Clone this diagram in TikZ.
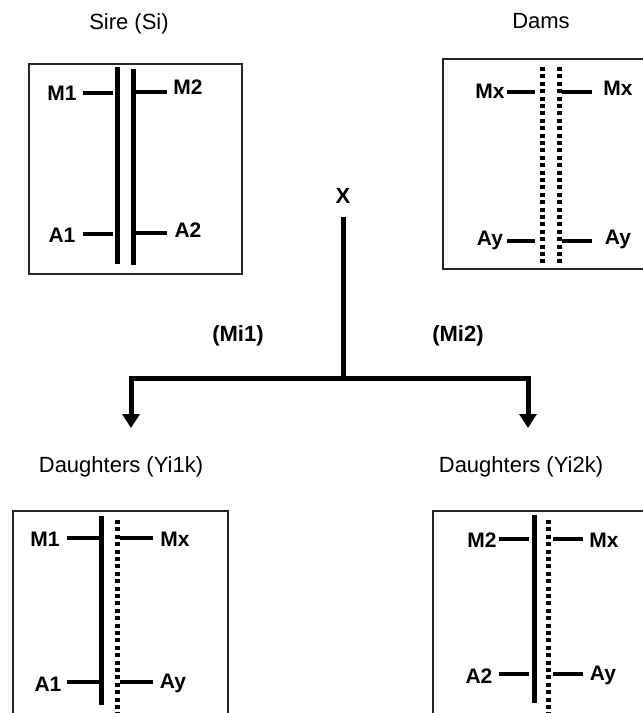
\documentclass[tikz,border=0pt]{standalone}
\usepackage{fontspec}
\setmainfont{Liberation Sans}
\usetikzlibrary{arrows.meta}

\begin{document}
\begin{tikzpicture}[x=1pt,y=-1pt,
  title/.style={inner sep=0pt,font=\fontsize{22}{26}\selectfont},
  gene/.style={inner sep=0pt,font=\fontsize{21}{25}\selectfont\bfseries},
  frame/.style={draw=black!85,line width=1.6pt},
  chrom/.style={line width=5pt},
  dotchrom/.style={line width=5pt,dash pattern=on 4pt off 3.4pt},
  tick/.style={line width=4.5pt},
  branch/.style={line width=5pt},
  arrowhead/.style={-{Triangle[width=17pt,length=14pt]}}]
\useasboundingbox (0,0) rectangle (643,713);
\clip (0,0) rectangle (643,713);

% ---- titles ----
\node[title] (tSire) at (129,24) {Sire (Si)};
\node[title] (tDams) at (541,21) {Dams};
\node[title] (tD1) at (121,467) {Daughters (Yi1k)};
\node[title] (tD2) at (521,467) {Daughters (Yi2k)};

% ---- sire: two solid chromosomes ----
\draw[frame] (29,64) rectangle (242,274);
\draw[chrom] (117,67) -- (117,264);
\draw[chrom] (133,69) -- (133,265);
\draw[tick] (83,93) -- (113,93);
\draw[tick] (136,92) -- (167,92);
\draw[tick] (83,234) -- (113,234);
\draw[tick] (136,233) -- (167,233);
\node[gene] (sM1) at (62,93) {M1};
\node[gene] (sM2) at (188,87) {M2};
\node[gene] (sA1) at (62,235) {A1};
\node[gene] (sA2) at (188,230) {A2};

% ---- dams: two dotted chromosomes ----
\draw[frame] (443,59) rectangle (660,269);
\draw[dotchrom] (542,67) -- (542,265);
\draw[dotchrom] (559,67) -- (559,265);
\draw[tick] (507,92) -- (535,92);
\draw[tick] (562,92) -- (592,92);
\draw[tick] (507,241) -- (535,241);
\draw[tick] (562,241) -- (592,241);
\node[gene] (dMx1) at (490,91) {Mx};
\node[gene] (dMx2) at (618,88) {Mx};
\node[gene] (dAy1) at (490,240) {Ay};
\node[gene] (dAy2) at (618,239) {Ay};

% ---- cross and the two daughter classes ----
\node[inner sep=0pt,font=\fontsize{22}{26}\selectfont\bfseries] (cross) at (343,196) {X};
\coordinate (stemtop) at (343,217);
\coordinate (split) at (343,378);
\coordinate (leftcorner) at (131,378);
\coordinate (rightcorner) at (528,378);
\coordinate (lefttip) at (131,428);
\coordinate (righttip) at (528,428);
\draw[branch] (stemtop) -- (split);
\draw[branch,line cap=rect,line join=miter] (split) -- (leftcorner) -- ([yshift=12pt]lefttip);
\draw[branch,arrowhead] ([yshift=-10pt]leftcorner) -- (lefttip);
\draw[branch,line cap=rect,line join=miter] (split) -- (rightcorner) -- ([yshift=12pt]righttip);
\draw[branch,arrowhead] ([yshift=-10pt]rightcorner) -- (righttip);
\node[gene,font=\fontsize{22}{26}\selectfont\bfseries] (mi1) at (238,336) {(Mi1)};
\node[gene,font=\fontsize{22}{26}\selectfont\bfseries] (mi2) at (458,336) {(Mi2)};

% ---- daughters from M1 ----
\draw[frame] (13,511) rectangle (228,730);
\draw[chrom] (101,516) -- (101,705);
\draw[dotchrom] (117,520) -- (117,715);
\draw[tick] (67,538) -- (99,538);
\draw[tick] (120,538) -- (153,538);
\draw[tick] (67,682) -- (99,682);
\draw[tick] (120,682) -- (153,682);
\node[gene] (lM1) at (45,539) {M1};
\node[gene] (lMx) at (175,539) {Mx};
\node[gene] (lA1) at (48,684) {A1};
\node[gene] (lAy) at (173,683) {Ay};

% ---- daughters from M2 ----
\draw[frame] (433,511) rectangle (660,730);
\draw[chrom] (534,515) -- (534,703);
\draw[dotchrom] (548,520) -- (548,715);
\draw[tick] (499,539) -- (529,539);
\draw[tick] (553,539) -- (583,539);
\draw[tick] (499,674) -- (529,674);
\draw[tick] (553,674) -- (583,674);
\node[gene] (rM2) at (482,540) {M2};
\node[gene] (rMx) at (604,540) {Mx};
\node[gene] (rA2) at (479,676) {A2};
\node[gene] (rAy) at (603,675) {Ay};
\end{tikzpicture}
\end{document}
